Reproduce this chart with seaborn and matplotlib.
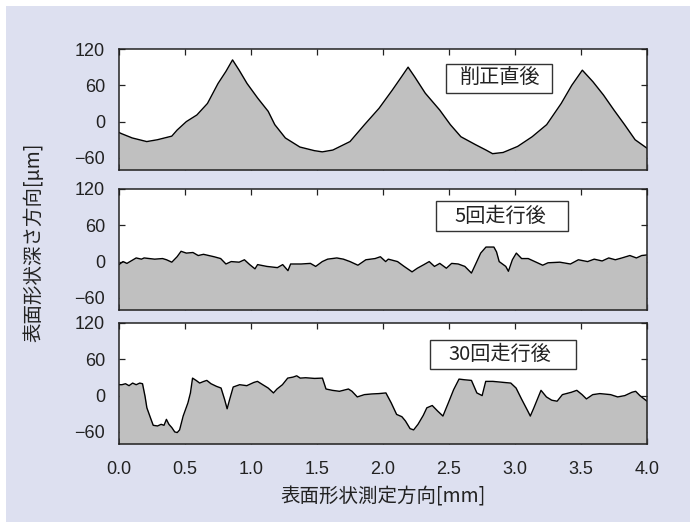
import numpy as np
import pandas as pd
import matplotlib
matplotlib.use("Agg")
import matplotlib.pyplot as plt
from matplotlib.patches import Rectangle
import seaborn as sns

# ---- profile data (position in mm, height in µm) ----
x_fresh = [0.00, 0.02, 0.10, 0.21, 0.29, 0.40, 0.44, 0.51, 0.59, 0.67, 0.75, 0.81,
           0.86, 0.91, 0.97, 1.05, 1.13, 1.18, 1.26, 1.37, 1.48, 1.54, 1.62, 1.75,
           1.86, 1.97, 2.07, 2.14, 2.19, 2.24, 2.32, 2.43, 2.51, 2.59, 2.70, 2.78,
           2.83, 2.91, 3.02, 3.13, 3.24, 3.35, 3.43, 3.51, 3.59, 3.67, 3.75, 3.83,
           3.91, 4.00]
y_fresh = [-18, -20, -27, -33, -30, -24, -14, 0, 11, 30, 63, 83,
           102, 85, 63, 39, 17, -5, -27, -42, -48, -50, -47, -33,
           -5, 22, 52, 74, 90, 74, 47, 19, -5, -25, -38, -47,
           -53, -51, -41, -25, -5, 30, 60, 85, 66, 44, 19, -5,
           -30, -44]

x_run5 = [0.00, 0.03, 0.06, 0.13, 0.17, 0.19, 0.27, 0.33, 0.36, 0.40, 0.44, 0.47,
          0.51, 0.56, 0.60, 0.64, 0.72, 0.77, 0.81, 0.85, 0.91, 0.95, 0.99, 1.03,
          1.05, 1.12, 1.20, 1.24, 1.28, 1.30, 1.38, 1.45, 1.49, 1.54, 1.58, 1.65,
          1.70, 1.75, 1.81, 1.87, 1.94, 1.98, 2.02, 2.04, 2.11, 2.16, 2.22, 2.26,
          2.31, 2.35, 2.39, 2.43, 2.48, 2.52, 2.57, 2.62, 2.67, 2.70, 2.74, 2.78,
          2.84, 2.86, 2.88, 2.93, 2.95, 2.98, 3.01, 3.05, 3.10, 3.15, 3.21, 3.25,
          3.34, 3.42, 3.48, 3.55, 3.60, 3.66, 3.71, 3.76, 3.81, 3.87, 3.92, 3.96,
          4.00]
y_run5 = [-5, 0, -3, 6, 4, 6, 4, 5, 3, -1, 8, 17,
          14, 15, 10, 12, 8, 5, -4, 0, -1, 3, -5, -12,
          -5, -8, -10, -5, -15, -4, -4, -3, -8, 0, 4, 6,
          4, 0, -6, 3, 5, 8, 0, 4, 0, -8, -17, -11,
          -5, 0, -8, -3, -11, -3, -4, -8, -19, -5, 14, 24,
          24, 16, 0, -8, -16, 3, 14, 5, 5, 0, -6, -2,
          -1, -4, 3, 0, 4, 1, 6, 3, 6, 10, 6, 10,
          11]

x_run30 = [0.000, 0.022, 0.049, 0.076, 0.103, 0.130, 0.157, 0.178, 0.197, 0.211,
           0.238, 0.259, 0.292, 0.319, 0.341, 0.359, 0.378, 0.400, 0.422, 0.441,
           0.459, 0.486, 0.522, 0.541, 0.557, 0.584, 0.611, 0.643, 0.665, 0.697,
           0.738, 0.773, 0.800, 0.819, 0.838, 0.865, 0.914, 0.968, 1.022, 1.049,
           1.089, 1.130, 1.170, 1.197, 1.238, 1.278, 1.319, 1.346, 1.373, 1.414,
           1.481, 1.541, 1.568, 1.616, 1.670, 1.738, 1.765, 1.805, 1.859, 1.914,
           1.968, 2.022, 2.062, 2.103, 2.143, 2.170, 2.205, 2.232, 2.265, 2.305,
           2.332, 2.373, 2.414, 2.454, 2.495, 2.535, 2.576, 2.616, 2.670, 2.711,
           2.751, 2.778, 2.832, 2.914, 2.968, 3.008, 3.049, 3.097, 3.116, 3.143,
           3.197, 3.238, 3.278, 3.319, 3.359, 3.427, 3.468, 3.508, 3.541, 3.589,
           3.643, 3.724, 3.778, 3.832, 3.886, 3.914, 3.946, 4.000]
y_run30 = [18.0, 18.0, 19.6, 16.4, 20.7, 18.0, 20.7, 19.6, -1.1, -20.2,
           -36.6, -49.1, -50.2, -47.5, -49.1, -39.3, -47.5, -52.9, -60.0, -61.1,
           -56.7, -33.8, -12.0, 4.4, 28.9, 25.1, 20.7, 23.5, 25.1, 19.6,
           15.3, 12.5, -6.5, -21.8, -6.5, 14.2, 18.0, 16.4, 21.8, 23.5,
           18.0, 12.5, 4.4, 10.9, 18.0, 28.9, 30.6, 32.7, 28.9, 29.5,
           28.4, 28.9, 10.9, 8.7, 7.1, 10.9, 7.1, -2.2, 1.6, 2.7,
           3.3, 4.4, -12.0, -31.1, -34.9, -42.0, -54.6, -56.7, -47.5, -32.7,
           -20.2, -16.4, -25.6, -33.8, -12.0, 9.8, 27.3, 26.2, 25.1, 4.4,
           0.0, 23.5, 23.5, 21.8, 20.7, 12.5, -5.5, -25.6, -33.8, -20.2,
           8.7, -2.2, -7.6, -9.3, 1.6, 5.5, 8.7, 1.6, -5.5, 1.6,
           3.3, 1.6, -2.2, 0.0, 5.5, 7.1, 0.0, -9.3]

panel_labels = ["削正直後", "5回走行後", "30回走行後"]
y_ticks = [-60, 0, 60, 120]
x_ticks = [0.0, 0.5, 1.0, 1.5, 2.0, 2.5, 3.0, 3.5, 4.0]
x_label = "表面形状測定方向[mm]"
y_label = "表面形状深さ方向[μm]"

profiles = [(x_fresh, y_fresh), (x_run5, y_run5), (x_run30, y_run30)]

sns.set_theme(style="white")
plt.rcParams["font.family"] = ["Liberation Sans", "Noto Sans CJK JP", "DejaVu Sans"]
cjk = ["Noto Sans CJK JP", "Liberation Sans", "DejaVu Sans"]

BG = "#dde0f0"
FILL = "#c0c0c0"
INK = "#222222"
Y_MIN, Y_MAX = -80, 120

fig = plt.figure(figsize=(6.9, 5.27), dpi=100, facecolor="white")
fig.patches.append(Rectangle((6 / 690, 5 / 527), 1 - 6 / 690, 1 - 11 / 527,
                             transform=fig.transFigure, facecolor=BG,
                             edgecolor="none", zorder=-10))

# axes rectangles: left, bottom, width, height (figure fraction)
rects = [(0.1725, 0.6774, 0.7652, 0.2296),
         (0.1725, 0.4118, 0.7652, 0.2296),
         (0.1725, 0.1575, 0.7652, 0.2296)]
# label boxes in axes fraction: x0, x1, y0, y1
boxes = [(0.619, 0.820, 0.633, 0.875),
         (0.600, 0.850, 0.653, 0.901),
         (0.589, 0.866, 0.620, 0.860)]

axes = []
for i, ((xs, ys), rect, box, lab) in enumerate(zip(profiles, rects, boxes, panel_labels)):
    ax = fig.add_axes(rect)
    ax.set_facecolor("white")
    df = pd.DataFrame({"x": xs, "y": ys})
    ax.fill_between(df["x"], df["y"], Y_MIN, color=FILL, linewidth=0, zorder=1)
    sns.lineplot(data=df, x="x", y="y", ax=ax, color="black", linewidth=1.0,
                 estimator=None, sort=False, zorder=2)
    ax.set_xlim(0, 4)
    ax.set_ylim(Y_MIN, Y_MAX)
    ax.set_xticks(x_ticks)
    ax.set_yticks(y_ticks)
    ax.set_xlabel("")
    ax.set_ylabel("")
    ax.tick_params(direction="in", length=4, width=0.9, color=INK,
                   top=True, right=True, bottom=True, left=True,
                   labelsize=13, labelcolor=INK)
    ax.tick_params(axis="y", pad=10)
    ax.tick_params(axis="x", pad=12)
    if i < 2:
        ax.tick_params(labelbottom=False)
    else:
        ax.set_xticklabels([f"{t:.1f}" for t in x_ticks])
    for s in ax.spines.values():
        s.set_color(INK)
        s.set_linewidth(1.1)
    x0, x1, y0, y1 = box
    ax.add_patch(Rectangle((x0, y0), x1 - x0, y1 - y0, transform=ax.transAxes,
                           facecolor="white", edgecolor="#333333", linewidth=1.0,
                           zorder=3))
    ax.text(0.7216, (y0 + y1) / 2, lab, transform=ax.transAxes, ha="center",
            va="center", fontsize=14.5, family=cjk, color=INK, zorder=4)
    axes.append(ax)

fig.text(383 / 690, 1 - 497 / 527, x_label, ha="center", va="center",
         fontsize=14, family=cjk, color=INK)
fig.text(34 / 690, 1 - 242 / 527, y_label, ha="center", va="center",
         rotation=90, fontsize=14, family=cjk, color=INK)

fig.savefig("out.png", dpi=100, facecolor="white")
